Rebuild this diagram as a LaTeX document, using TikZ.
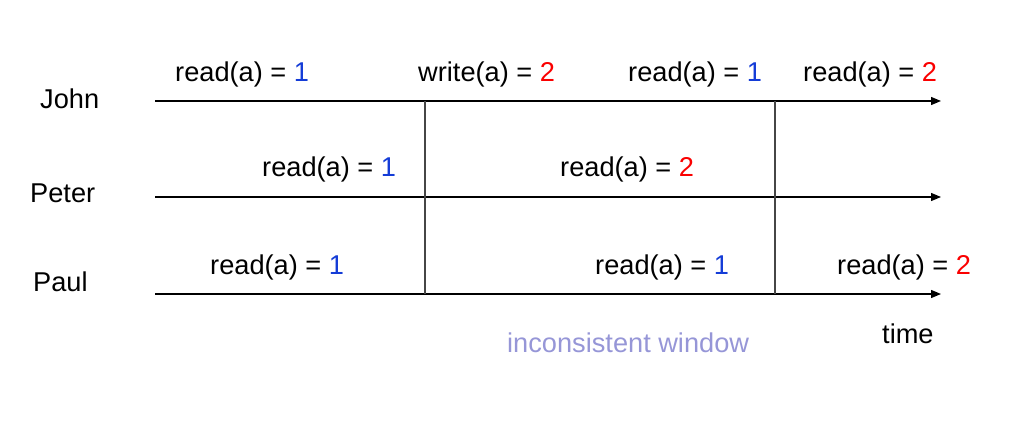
\documentclass[tikz,border=0pt]{standalone}
\usepackage{fontspec}
\setmainfont{Liberation Sans}
\usetikzlibrary{arrows.meta}
\definecolor{vblue}{RGB}{20,60,215}
\definecolor{vred}{RGB}{250,0,0}
\definecolor{winc}{RGB}{150,150,215}
\definecolor{vgray}{RGB}{70,70,70}
\begin{document}
\begin{tikzpicture}[x=1pt,y=-1pt,
  lbl/.style={anchor=base west,inner sep=0pt,font=\fontsize{27.2}{32}\selectfont},
  timeline/.style={line width=1.3pt,-{Triangle[length=10pt,width=8pt]}},
  divider/.style={line width=1.3pt,draw=vgray}]
\useasboundingbox (0,0) rectangle (1014,422);
% coordinates
\coordinate (js) at (155,101); \coordinate (je) at (941,101);
\coordinate (ps) at (155,197); \coordinate (pe) at (941,197);
\coordinate (as) at (155,294); \coordinate (ae) at (941,294);
\coordinate (v1t) at (425,101); \coordinate (v1b) at (425,294);
\coordinate (v2t) at (775,101); \coordinate (v2b) at (775,294);
% lines
\draw[timeline] (js) -- (je);
\draw[timeline] (ps) -- (pe);
\draw[timeline] (as) -- (ae);
\draw[divider] (v1t) -- (v1b);
\draw[divider] (v2t) -- (v2b);
% process labels
\node[lbl] (john) at (40,109) {John};
\node[lbl] (peter) at (30,202) {Peter};
\node[lbl] (paul) at (33,291) {Paul};
% John
\node[lbl] (j1) at (175,82) {read(a) = \textcolor{vblue}{1}};
\node[lbl] (j2) at (418,82) {write(a) = \textcolor{vred}{2}};
\node[lbl] (j3) at (628,82) {read(a) = \textcolor{vblue}{1}};
\node[lbl] (j4) at (803,82) {read(a) = \textcolor{vred}{2}};
% Peter
\node[lbl] (p1) at (262,177) {read(a) = \textcolor{vblue}{1}};
\node[lbl] (p2) at (560,177) {read(a) = \textcolor{vred}{2}};
% Paul
\node[lbl] (a1) at (210,274) {read(a) = \textcolor{vblue}{1}};
\node[lbl] (a2) at (595,274) {read(a) = \textcolor{vblue}{1}};
\node[lbl] (a3) at (837,274) {read(a) = \textcolor{vred}{2}};
% bottom
\node[lbl] (time) at (882,343) {time};
\node[lbl,text=winc] (win) at (507,352) {inconsistent window};
\end{tikzpicture}
\end{document}
